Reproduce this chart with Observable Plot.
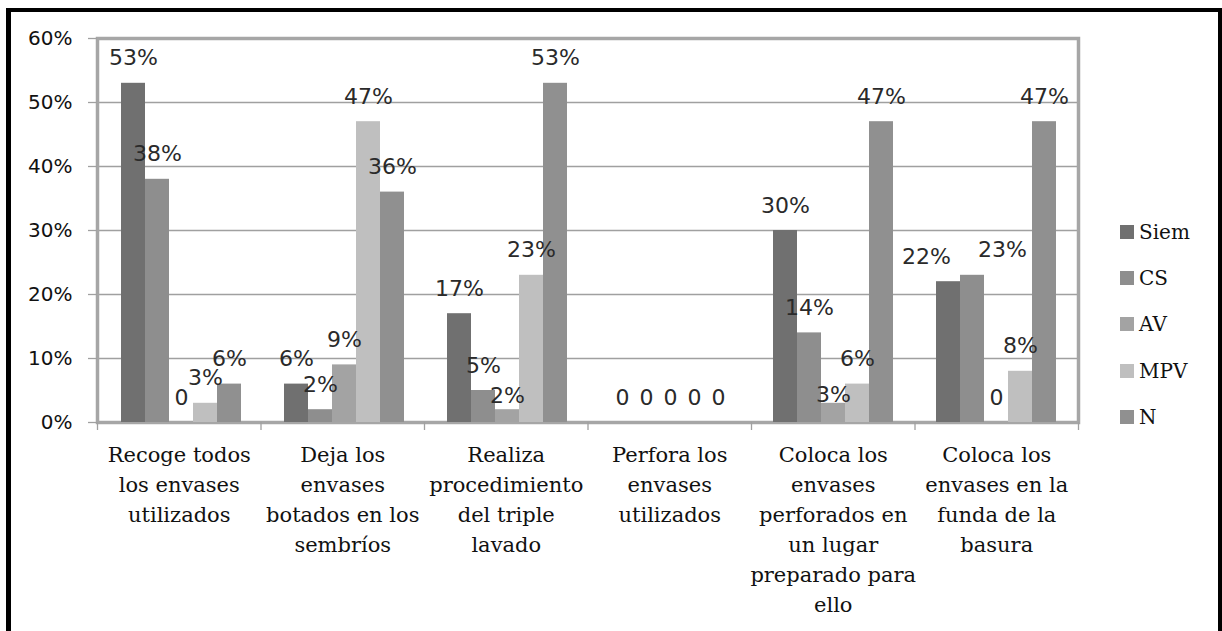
<!DOCTYPE html>
<html>
<head>
<meta charset="utf-8">
<script src="https://cdn.jsdelivr.net/npm/d3@7"></script>
<script src="https://cdn.jsdelivr.net/npm/@observablehq/plot@0.6"></script>
<style>
  html, body { margin: 0; padding: 0; background: #fff; }
  #wrap { position: relative; width: 1222px; height: 631px; overflow: hidden; background: #fff; }
  #border { position: absolute; left: 6px; top: 8px; width: 1216px; height: 700px; box-sizing: border-box;
            border-style: solid; border-color: #000; border-width: 4px 4px 0 5px; }
  .layer { position: absolute; left: 0; top: 0; }
  #legend { position: absolute; left: 1120px; top: 0; font-family: "DejaVu Serif", serif; font-size: 20px; color: #111; }
  .item { position: absolute; left: 0; display: flex; align-items: center; white-space: nowrap; height: 24px; }
  .sw { width: 14px; height: 14px; margin-right: 5px; }
</style>
</head>
<body>
<div id="wrap">
  <div id="border"></div>
  <div id="base" class="layer"></div>
  <div id="bars" class="layer"></div>
  <div id="legend"></div>
</div>
<script>
// ---- data ----
const categories = [
  "Recoge todos los envases utilizados",
  "Deja los envases botados en los sembríos",
  "Realiza procedimiento del triple lavado",
  "Perfora los envases utilizados",
  "Coloca los envases perforados en un lugar preparado para ello",
  "Coloca los envases en la funda de la basura"
];
const tickLabels = [
  "Recoge todos\nlos envases\nutilizados",
  "Deja los\nenvases\nbotados en los\nsembríos",
  "Realiza\nprocedimiento\ndel triple\nlavado",
  "Perfora los\nenvases\nutilizados",
  "Coloca los\nenvases\nperforados en\nun lugar\npreparado para\nello",
  "Coloca los\nenvases en la\nfunda de la\nbasura"
];
const series = ["Siem", "CS", "AV", "MPV", "N"];
const siem = [53, 6, 17, 0, 30, 22];
const cs   = [38, 2, 5, 0, 14, 23];
const av   = [0, 9, 2, 0, 3, 0];
const mpv  = [3, 47, 23, 0, 6, 8];
const n    = [6, 36, 53, 0, 47, 47];
const yTicks = [0, 10, 20, 30, 40, 50, 60];
const colors = ["#707070", "#8e8e8e", "#a3a3a3", "#bfbfbf", "#909090"];

// label nudges used by the original chart to avoid collisions (pixels): [category index, series, dx, dy]
const labelNudges = [[2, "AV", 0, 11], [4, "AV", 0, 17], [5, "Siem", -22, 0], [5, "CS", 30, 0]];

const seriesValues = [siem, cs, av, mpv, n];
const rows = categories.flatMap((c, ci) =>
  series.map((s, si) => {
    const nd = labelNudges.find(([k, ss]) => k === ci && ss === s);
    return {category: c, series: s, value: seriesValues[si][ci], ndx: nd ? nd[2] : 0, ndy: nd ? nd[3] : 0};
  }));

// ---- layout ----
const W = 1222, H = 631;
const M = {marginLeft: 97, marginRight: 144, marginTop: 38, marginBottom: 209};

// ---- background layer: grid, frame, axes, category labels ----
const base = Plot.plot({
  width: W, height: H, ...M,
  style: {background: "transparent", fontFamily: "DejaVu Sans", overflow: "visible"},
  x: {domain: [0, categories.length], axis: null},
  y: {domain: [0, 60], axis: null},
  marks: [
    Plot.ruleY(yTicks.slice(1, -1), {stroke: "#a0a0a0", strokeWidth: 1.3}),
    Plot.frame({stroke: "#a6a6a6", strokeWidth: 3.5}),
    Plot.axisY({ticks: yTicks, tickFormat: d => d + "%", tickSize: 9, tickPadding: 16,
                stroke: "#a0a0a0", strokeWidth: 1.3, fill: "#111", fontSize: 20, fontFamily: "DejaVu Sans"}),
    Plot.axisX({ticks: d3.range(categories.length + 1), tickFormat: () => "", tickSize: 8,
                stroke: "#a0a0a0", strokeWidth: 1.3}),
    Plot.text(tickLabels, {x: (d, i) => i + 0.5, text: d => d, frameAnchor: "bottom", lineAnchor: "top",
                dy: 18, fontSize: 21, lineHeight: 1.43, fill: "#111", fontFamily: "DejaVu Serif"})
  ]
});
document.getElementById("base").appendChild(base);

// ---- bars layer ----
const bars = Plot.plot({
  width: W, height: H, ...M,
  style: {background: "transparent", fontFamily: "DejaVu Sans", overflow: "visible"},
  fx: {domain: categories, padding: 0, axis: null},
  x: {domain: series, paddingInner: 0, paddingOuter: 0.77, axis: null},
  y: {domain: [0, 60], axis: null},
  color: {domain: series, range: colors},
  marks: [
    Plot.barY(rows, {fx: "category", x: "series", y: "value", fill: "series"}),
    Plot.text(rows.filter(d => d.ndx === 0 && d.ndy === 0), {fx: "category", x: "series", y: "value",
      text: d => d.value === 0 ? "0" : d.value + "%", dy: -25, fontSize: 22, fill: "#2a2a2a"}),
    ...rows.filter(d => d.ndx !== 0 || d.ndy !== 0).map(r =>
      Plot.text([r], {fx: "category", x: "series", y: "value",
        text: d => d.value === 0 ? "0" : d.value + "%", dx: r.ndx, dy: -25 + r.ndy, fontSize: 22, fill: "#2a2a2a"}))
  ]
});
document.getElementById("bars").appendChild(bars);

// ---- legend ----
const legend = d3.select("#legend");
series.forEach((s, i) => {
  const it = legend.append("div").attr("class", "item").style("top", (220 + i * 46.2) + "px");
  it.append("div").attr("class", "sw").style("background", colors[i]);
  it.append("span").text(s);
});
</script>
</body>
</html>
